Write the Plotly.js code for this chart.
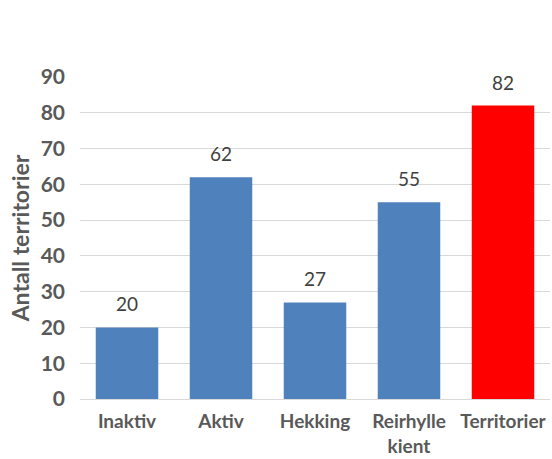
<!DOCTYPE html>
<html>
<head>
<meta charset="utf-8">
<script src="https://cdn.plot.ly/plotly-3.0.1.min.js"></script>
<style>html,body{margin:0;padding:0;background:#fff}#chart{width:552px;height:459px}</style>
</head>
<body>
<div id="chart"></div>
<script>
const categories = ["Inaktiv", "Aktiv", "Hekking", "Reirhylle<br>kient", "Territorier"];
const values = [20, 62, 27, 55, 82];
const barColors = ["#4F81BD", "#4F81BD", "#4F81BD", "#4F81BD", "#FF0000"];
const yTicks = [0, 10, 20, 30, 40, 50, 60, 70, 80, 90];

const fontFamily = "Lato, 'Liberation Sans', sans-serif";

const trace = {
  type: "bar",
  x: categories,
  y: values,
  marker: {color: barColors, line: {width: 0}},
  hoverinfo: "none",
  cliponaxis: false
};

const annotations = values.map((v, i) => ({
  x: categories[i],
  y: v,
  xref: "x",
  yref: "y",
  text: String(v),
  showarrow: false,
  yanchor: "bottom",
  yshift: 10,
  font: {family: fontFamily, size: 19, color: "#404040"}
}));

const layout = {
  width: 552,
  height: 459,
  margin: {l: 80, r: 2, t: 77, b: 60},
  paper_bgcolor: "#fff",
  plot_bgcolor: "#fff",
  showlegend: false,
  bargap: 0.335,
  font: {family: fontFamily},
  xaxis: {
    type: "category",
    showgrid: false,
    showline: false,
    zeroline: false,
    ticks: "",
    ticklabelstandoff: 9,
    tickfont: {family: fontFamily, size: 19, color: "#595959", weight: "bold"}
  },
  yaxis: {
    range: [0, 90],
    tickvals: yTicks,
    ticktext: yTicks.map(String),
    showgrid: true,
    gridcolor: "#D9D9D9",
    gridwidth: 1,
    zeroline: true,
    zerolinecolor: "#D9D9D9",
    zerolinewidth: 1,
    showline: false,
    ticks: "",
    ticklabelstandoff: 14,
    tickfont: {family: fontFamily, size: 21, color: "#595959", weight: "bold"},
    title: {text: "Antall territorier", standoff: 4, font: {family: fontFamily, size: 23, color: "#595959", weight: "bold"}}
  },
  annotations: annotations
};

Plotly.newPlot("chart", [trace], layout, {displayModeBar: false, staticPlot: true});
</script>
</body>
</html>
